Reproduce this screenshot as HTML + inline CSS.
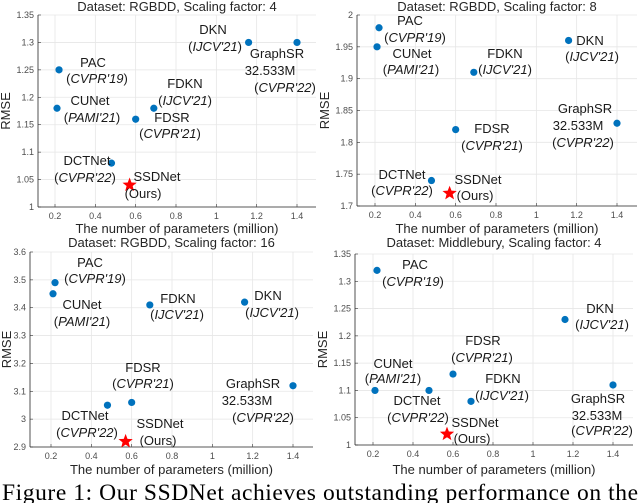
<!DOCTYPE html>
<html><head><meta charset="utf-8">
<style>
html,body{margin:0;padding:0;background:#fff;}
svg{display:block;font-family:"Liberation Sans",Arial,sans-serif;}
.tick{font-size:9px;fill:#4d4d4d;}
.lab{font-size:13px;fill:#262626;}
.ann{font-size:13px;fill:#1a1a1a;}
.it{font-style:italic;}
</style></head>
<body>
<svg id="fig" width="640" height="503" viewBox="0 0 640 503">
<text x="2" y="500" text-anchor="start" textLength="636" style="font-family:'Liberation Serif',serif;font-size:23.5px;fill:#000">Figure 1: Our SSDNet achieves outstanding performance on the</text>
</svg>
<script>
// ---- data ----
const methods = ["PAC","CUNet","FDKN","FDSR","DCTNet","DKN","GraphSR"];
const params = [0.22,0.21,0.69,0.60,0.48,1.16,1.40];
const oursParam = 0.57;
const titles = ["Dataset: RGBDD, Scaling factor: 4","Dataset: RGBDD, Scaling factor: 8","Dataset: RGBDD, Scaling factor: 16","Dataset: Middlebury, Scaling factor: 4"];
const rmse4 = [1.25,1.18,1.18,1.16,1.08,1.30,1.30];
const rmse8 = [1.98,1.95,1.91,1.82,1.74,1.96,1.83];
const rmse16 = [3.49,3.45,3.41,3.06,3.05,3.42,3.12];
const rmseMid = [1.32,1.10,1.08,1.13,1.10,1.23,1.11];
const oursRmse = [1.04,1.72,2.92,1.02];
const yTicks4 = [1,1.05,1.1,1.15,1.2,1.25,1.3,1.35];
const yTicks8 = [1.7,1.75,1.8,1.85,1.9,1.95,2];
const yTicks16 = [2.9,3,3.1,3.2,3.3,3.4,3.5,3.6];
const yTicksMid = [1,1.05,1.1,1.15,1.2,1.25,1.3,1.35];
const xTicks = [0.2,0.4,0.6,0.8,1,1.2,1.4];
const venues = ["CVPR'19","PAMI'21","IJCV'21","CVPR'21","CVPR'22","IJCV'21","CVPR'22"];

const NS="http://www.w3.org/2000/svg";
const svg=document.getElementById('fig');
function mk(tag,attrs,parent){const e=document.createElementNS(NS,tag);for(const k in attrs)e.setAttribute(k,attrs[k]);(parent||svg).appendChild(e);return e;}

// panel geometry (layout, not data)
const panels=[
 {L:38,R:316,T:15,B:207,x02:55,x14:297,ymin:1,ymax:1.35,yt:yTicks4,vals:rmse4,title:titles[0],ty:11,xl:233,yx:10,
  lab:[[93,62,97,78],[90,100,92,117],[185,83,185,100],[172,117,170,133],[87,160,85,177],[213,29,215,46],[277,53,285,87,270,70]],ours:[157,176,143,193]},
 {L:357,R:637,T:15,B:206,x02:375,x14:617,ymin:1.7,ymax:2,yt:yTicks8,vals:rmse8,title:titles[1],ty:11,xl:233,yx:329,
  lab:[[410,20,415,37],[412,53,411,69],[505,53,505,69],[492,128,492,145],[402,174,402,190],[590,40,592,56],[585,108,583,142,578,125]],ours:[478,179,475,195]},
 {L:30,R:313,T:252,B:447,x02:51,x14:293,ymin:2.9,ymax:3.6,yt:yTicks16,vals:rmse16,title:titles[2],ty:247,xl:474,yx:11,
  lab:[[90,262,95,278],[82,304,82,321],[178,298,177,314],[143,367,143,383],[85,415,87,432],[268,295,272,312],[253,383,263,417,247,400]],ours:[160,423,158,440]},
 {L:355,R:633,T:254,B:445,x02:373,x14:613,ymin:1,ymax:1.35,yt:yTicksMid,vals:rmseMid,title:titles[3],ty:247,xl:474,yx:327,
  lab:[[415,264,413,281],[393,363,393,378],[503,378,502,395],[483,340,482,357],[417,400,418,417],[600,308,602,324],[598,398,602,430,597,415]],ours:[475,422,472,438]}
];
const names=["rgbdd-x4","rgbdd-x8","rgbdd-x16","middlebury-x4"];

panels.forEach((p,pi)=>{
  const g=mk('g',{});
  
  
  const xs=v=>p.x02+(v-0.2)*(p.x14-p.x02)/1.2;
  const ys=v=>p.B-(v-p.ymin)*(p.B-p.T)/(p.ymax-p.ymin);
  const t=mk('text',{x:(p.L+p.R)/2,y:p.ty,'text-anchor':'middle',class:'lab'},g);t.textContent=p.title;
  
  
  xTicks.forEach(v=>{
    const x=xs(v);
    mk('line',{x1:x,x2:x,y1:p.T,y2:p.B,stroke:'#e6e6e6','stroke-width':0.8},g);
    mk('line',{x1:x,x2:x,y1:p.B,y2:p.B-3,stroke:'#333','stroke-width':0.6},g);
    const tt=mk('text',{x:x,y:p.B+12,'text-anchor':'middle',class:'tick'},g);tt.textContent=String(v);
    
    
  });
  p.yt.forEach(v=>{
    const y=ys(v);
    mk('line',{x1:p.L,x2:p.R,y1:y,y2:y,stroke:'#e6e6e6','stroke-width':0.8},g);
    mk('line',{x1:p.L,x2:p.L+3,y1:y,y2:y,stroke:'#333','stroke-width':0.6},g);
    const tt=mk('text',{x:p.L-4,y:y+3,'text-anchor':'end',class:'tick'},g);tt.textContent=String(v);
    
    
  });
  mk('line',{x1:p.L,x2:p.R,y1:p.B,y2:p.B,stroke:'#262626','stroke-width':0.8},g);
  mk('line',{x1:p.L,x2:p.L,y1:p.T,y2:p.B,stroke:'#262626','stroke-width':0.8},g);
  const xl=mk('text',{x:(p.L+p.R)/2,y:p.xl,'text-anchor':'middle',class:'lab'},g);xl.textContent='The number of parameters (million)';
  
  
  const yc=(p.T+p.B)/2, yx=p.yx;
  const yl=mk('text',{x:yx,y:yc,'text-anchor':'middle',class:'lab',transform:`rotate(-90 ${yx} ${yc})`},g);yl.textContent='RMSE';
  
  
  methods.forEach((m,i)=>{
    const c=mk('circle',{cx:xs(params[i]),cy:ys(p.vals[i]),r:3.6,fill:'#0072BD'},g);
    
    
    const a=p.lab[i];
    const n=mk('text',{x:a[0],y:a[1]+5,'text-anchor':'middle',class:'ann'},g);n.textContent=m;
    
    
    const vv=mk('text',{x:a[2],y:a[3]+5,'text-anchor':'middle',class:'ann'},g);
    
    
    vv.appendChild(document.createTextNode('('));
    const ts=mk('tspan',{class:'it'},vv);ts.textContent=venues[i];
    vv.appendChild(document.createTextNode(')'));
    if(a.length>4){const s=mk('text',{x:a[4],y:a[5]+5,'text-anchor':'middle',class:'ann'},g);s.textContent='32.533M';
      
      }
  });
  const cx=xs(oursParam),cy=ys(oursRmse[pi]);let d='';
  for(let k=0;k<10;k++){const r=k%2?3.2:7.5;const an=-Math.PI/2+k*Math.PI/5;d+=(k?'L':'M')+(cx+r*Math.cos(an)).toFixed(2)+' '+(cy+r*Math.sin(an)).toFixed(2);}
  const st=mk('path',{d:d+'Z',fill:'#ff0000'},g);
  
  
  const o=p.ours;
  const s1=mk('text',{x:o[0],y:o[1]+5,'text-anchor':'middle',class:'ann'},g);s1.textContent='SSDNet';
  
  
  const s2=mk('text',{x:o[2],y:o[3]+5,'text-anchor':'middle',class:'ann'},g);s2.textContent='(Ours)';
  
  
});
</script>
</body></html>
